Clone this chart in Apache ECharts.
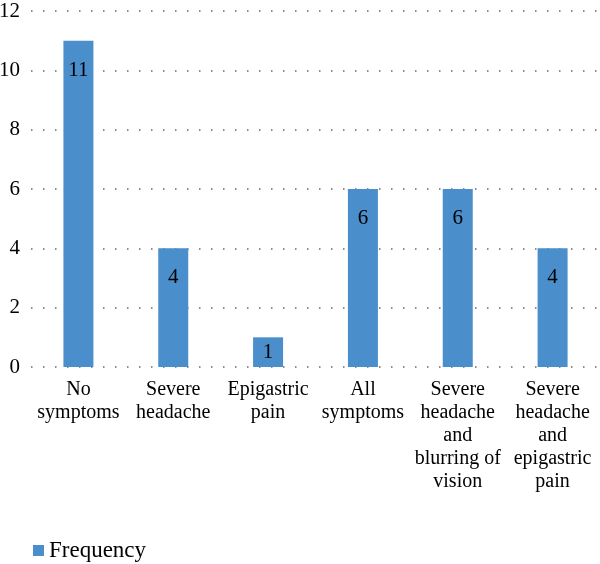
<!DOCTYPE html>
<html>
<head>
<meta charset="utf-8">
<script src="https://cdn.jsdelivr.net/npm/echarts@6/dist/echarts.min.js"></script>
<style>
  html, body { margin: 0; padding: 0; background: #fff; }
  #chart { width: 600px; height: 564px; }
</style>
</head>
<body>
<div id="chart"></div>
<script>
// chart data
const categories = [
  'No\nsymptoms',
  'Severe\nheadache',
  'Epigastric\npain',
  'All\nsymptoms',
  'Severe\nheadache\nand\nblurring of\nvision',
  'Severe\nheadache\nand\nepigastric\npain'
]
const frequency = [11, 4, 1, 6, 6, 4]
const seriesName = 'Frequency'

const font = 'Times New Roman, DejaVu Serif, serif'
const chart = echarts.init(document.getElementById('chart'))

chart.setOption({
  animation: false,
  textStyle: { fontFamily: font },
  grid: {
    left: 31,
    right: 0,
    top: 11,
    bottom: 197,
    outerBoundsMode: 'none'
  },
  legend: {
    data: [seriesName],
    left: 28,
    top: 534,
    icon: 'rect',
    itemWidth: 11,
    itemHeight: 11,
    itemGap: 3,
    textStyle: { fontFamily: font, fontSize: 23, color: '#000' }
  },
  xAxis: {
    type: 'category',
    data: categories,
    axisLine: { show: false },
    axisTick: { show: false },
    axisLabel: {
      interval: 0,
      margin: 11,
      fontFamily: font,
      fontSize: 20,
      lineHeight: 23,
      color: '#000'
    }
  },
  yAxis: {
    type: 'value',
    min: 0,
    max: 12,
    interval: 2,
    axisLine: { show: false },
    axisTick: { show: false },
    axisLabel: {
      margin: 11,
      fontFamily: font,
      fontSize: 21,
      color: '#000'
    },
    splitLine: {
      lineStyle: { color: '#666', type: [1.5, 10.5], width: 1.5 }
    }
  },
  series: [{
    name: seriesName,
    type: 'bar',
    barWidth: 30,
    itemStyle: { color: '#4a8ecb' },
    label: {
      show: true,
      position: 'insideTop',
      distance: 19,
      fontFamily: font,
      fontSize: 21,
      color: '#000'
    },
    data: frequency.map(v => v < 2 ? { value: v, label: { position: 'inside' } } : v)
  }]
})
</script>
</body>
</html>
